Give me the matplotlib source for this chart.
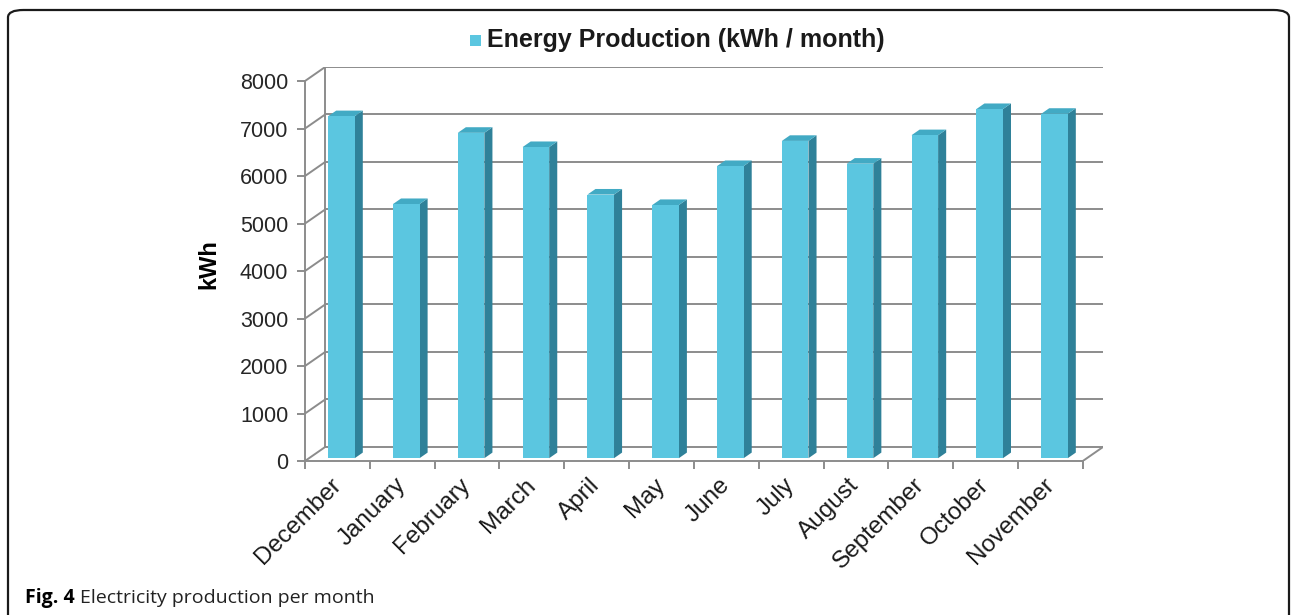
import matplotlib.pyplot as plt
from matplotlib.patches import Polygon, Rectangle, FancyBboxPatch

months = ['December', 'January', 'February', 'March', 'April', 'May',
          'June', 'July', 'August', 'September', 'October', 'November']
energy = [7200, 5350, 6850, 6550, 5550, 5330, 6150, 6680, 6200, 6800, 7350, 7250]
yticks = [0, 1000, 2000, 3000, 4000, 5000, 6000, 7000, 8000]
legend_label = 'Energy Production (kWh / month)'
caption_bold = 'Fig. 4'
caption_text = 'Electricity production per month'

W, H = 1292, 615
fig = plt.figure(figsize=(W / 100, H / 100), dpi=100)

# 3d look: depth offset of back wall, in data units
ddx = 0.311
ddy = 295
ymax = 8000
n = len(months)

grid_c = '#8c8c8c'
face_c = '#5bc6e0'
side_c = '#2f8199'
top_c = '#42aac4'

# axes placed in pixel coords (front-left axis at x=305, floor at y=461, back top at y=67)
ax = fig.add_axes([305 / W, (H - 461) / H, 798 / W, 394 / H])
ax.set_xlim(0, n + ddx)
ax.set_ylim(0, ymax + ddy)
ax.patch.set_visible(False)

# back wall + side wall gridlines
for v in yticks:
    ax.plot([ddx, n + ddx], [v + ddy, v + ddy], color=grid_c, lw=1.4, zorder=1)
    ax.plot([0, ddx], [v, v + ddy], color=grid_c, lw=1.4, zorder=1)
ax.plot([ddx, ddx], [ddy, ymax + ddy], color=grid_c, lw=1.4, zorder=1)
ax.plot([n, n + ddx], [0, ddy], color=grid_c, lw=1.4, zorder=1)

# bars
f0, f1 = 0.2, 0.6
bw = 0.41
dd = f1 - f0
for i, v in enumerate(energy):
    x0 = i + 0.5 - bw / 2 + f0 * ddx
    y0 = f0 * ddy
    ax.add_patch(Polygon([(x0 + bw, y0), (x0 + bw + dd * ddx, y0 + dd * ddy),
                          (x0 + bw + dd * ddx, y0 + v + dd * ddy), (x0 + bw, y0 + v)],
                         closed=True, facecolor=side_c, edgecolor='none', zorder=3))
    ax.add_patch(Polygon([(x0, y0 + v), (x0 + bw, y0 + v),
                          (x0 + bw + dd * ddx, y0 + v + dd * ddy), (x0 + dd * ddx, y0 + v + dd * ddy)],
                         closed=True, facecolor=top_c, edgecolor='none', zorder=3))
    ax.add_patch(Rectangle((x0, y0), bw, v, facecolor=face_c, edgecolor='none', zorder=4))

for s in ['top', 'right']:
    ax.spines[s].set_visible(False)
ax.spines['left'].set_bounds(0, ymax)
ax.spines['bottom'].set_bounds(0, n)
for s in ['left', 'bottom']:
    ax.spines[s].set_color(grid_c)
    ax.spines[s].set_linewidth(1.4)

ax.set_yticks(yticks)
ax.set_yticklabels([str(v) for v in yticks], fontsize=15.5, family='Liberation Sans', color='#262626')
ax.tick_params(axis='y', direction='out', length=6, width=1.4, color=grid_c, pad=6)

ax.set_xticks([i + 0.5 for i in range(n)])
ax.set_xticklabels(months, rotation=45, ha='right', va='center', rotation_mode='anchor',
                   fontsize=17.5, family='Liberation Sans', color='#1a1a1a')
ax.set_xticks(range(n + 1), minor=True)
ax.tick_params(axis='x', which='major', length=0, pad=15)
ax.tick_params(axis='x', which='minor', direction='out', length=6, width=1.4, color=grid_c)

ax.set_ylabel('kWh', fontsize=17, fontweight='bold', family='Liberation Sans', labelpad=14)

# legend at top
fig.patches.append(Rectangle((470 / W, (H - 46) / H), 11 / W, 11 / H, transform=fig.transFigure,
                             facecolor=face_c, edgecolor='none'))
fig.text(487 / W, (H - 40) / H, legend_label, fontsize=18, fontweight='bold',
         family='Liberation Sans', va='center', ha='left', color='#1a1a1a')

# caption
t = fig.text(25 / W, (H - 598) / H, caption_bold, fontsize=14, fontweight='bold',
             family='Open Sans', va='center', ha='left')
fig.canvas.draw()
bb = t.get_window_extent()
fig.text(bb.x1 / W + 5 / W, (H - 598) / H, caption_text, fontsize=14,
         family='Open Sans', va='center', ha='left', color='#222222')

# rounded frame, open at the bottom
fig.patches.append(FancyBboxPatch((8 / W, -0.1), 1281 / W, (H - 10) / H + 0.1,
                                  boxstyle='round,pad=0,rounding_size=0.012',
                                  transform=fig.transFigure, facecolor='none',
                                  edgecolor='#1a1a1a', lw=1.6))

fig.savefig('out.png', dpi=100)
